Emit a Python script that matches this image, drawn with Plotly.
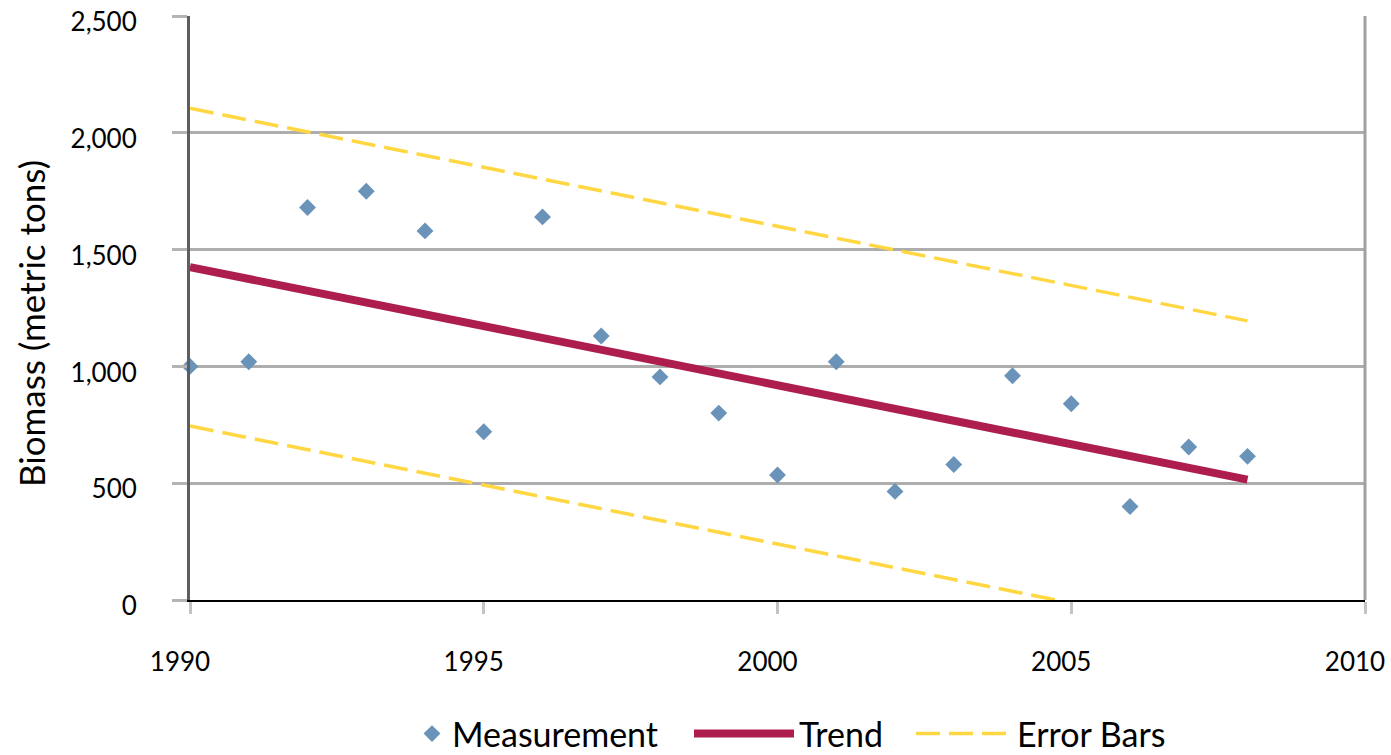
import plotly.graph_objects as go

# Annual biomass measurements
years = [1990, 1991, 1992, 1993, 1994, 1995, 1996, 1997, 1998, 1999,
         2000, 2001, 2002, 2003, 2004, 2005, 2006, 2007, 2008]
biomass = [1000, 1020, 1680, 1750, 1580, 720, 1640, 1130, 955, 800,
           535, 1020, 465, 580, 960, 840, 400, 655, 615]

# Linear trend and its error band (endpoints)
trend_years = [1990, 2008]
trend = [1425, 515]
upper_band = [2105, 1195]
lower_band = [745, -165]

x_ticks = [1990, 1995, 2000, 2005, 2010]
y_ticks = [0, 500, 1000, 1500, 2000, 2500]
y_tick_text = ["0", "500", "1,000", "1,500", "2,000", "2,500"]

FONT = "Lato"
W, H = 1391, 755
LEGEND_Y = 734 / H  # legend row, measured from the top of the page
LEGEND_FONT = dict(size=34)

fig = go.Figure()

fig.add_trace(go.Scatter(
    x=years, y=biomass, mode="markers", name="Measurement", legend="legend",
    marker=dict(symbol="diamond", size=13, color="#6993B8"),
    cliponaxis=False,
))
fig.add_trace(go.Scatter(
    x=trend_years, y=trend, mode="lines", name="Trend", legend="legend2",
    line=dict(color="#AD1E4E", width=8),
))
fig.add_trace(go.Scatter(
    x=trend_years, y=upper_band, mode="lines", name="Error Bars", legend="legend3",
    line=dict(color="#FFD743", width=3.5, dash="24px,9px"),
))
fig.add_trace(go.Scatter(
    x=trend_years, y=lower_band, mode="lines", name="Error Bars",
    line=dict(color="#FFD743", width=3.5, dash="24px,9px"),
    showlegend=False,
))


def legend_box(left_px, item_w):
    return dict(
        orientation="h", xref="container", yref="container",
        x=left_px / W, xanchor="left", y=1 - LEGEND_Y, yanchor="middle",
        font=LEGEND_FONT, itemwidth=item_w, bgcolor="rgba(0,0,0,0)",
    )


fig.update_layout(
    width=W, height=H,
    margin=dict(l=190, r=26, t=16, b=155, autoexpand=False),
    paper_bgcolor="white", plot_bgcolor="white",
    font=dict(family=FONT, size=26, color="black"),
    showlegend=True,
    legend=legend_box(412, 30),
    legend2=legend_box(689, 100),
    legend3=legend_box(911, 96),
    xaxis=dict(
        range=[1990, 2010], tickmode="array", tickvals=x_ticks,
        showgrid=False, zeroline=False, automargin=False,
        showline=True, linecolor="black", linewidth=2,
        ticks="outside", ticklen=12, tickwidth=3, tickcolor="#C4C4C4",
        ticklabelstandoff=26, ticklabelshift=-10, tickfont=dict(size=26),
        ticklabeloverflow="allow",
    ),
    yaxis=dict(
        range=[0, 2500], tickmode="array", tickvals=y_ticks, ticktext=y_tick_text,
        showgrid=True, gridcolor="#ADADAD", gridwidth=3, zeroline=False,
        automargin=False,
        showline=True, linecolor="#5E5E5E", linewidth=3,
        ticks="outside", ticklen=15, tickwidth=3, tickcolor="#B4B4B4",
        ticklabelstandoff=30, ticklabelshift=6, tickfont=dict(size=26),
        ticklabeloverflow="allow",
    ),
    annotations=[
        dict(text="Biomass (metric tons)", textangle=-90, showarrow=False,
             xref="paper", yref="paper", x=(31 - 190) / 1175, y=(600 - 323) / 584,
             xanchor="center", yanchor="middle", font=dict(size=35)),
    ],
    shapes=[
        dict(type="line", xref="paper", yref="paper", x0=1, x1=1, y0=0, y1=1,
             line=dict(color="#A0A0A0", width=3)),
    ],
)

fig.write_html("out.html")
